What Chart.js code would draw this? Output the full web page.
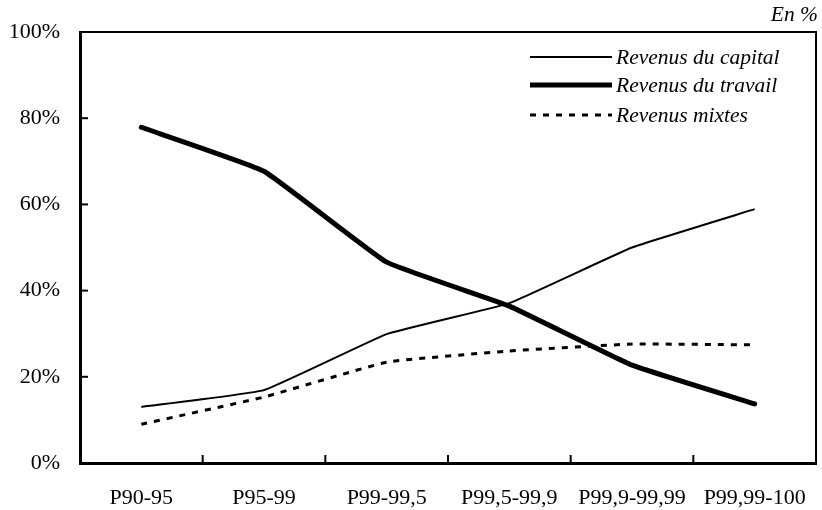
<!DOCTYPE html>
<html><head><meta charset="utf-8">
<script src="https://cdn.jsdelivr.net/npm/chart.js@4"></script>
<style>html,body{margin:0;padding:0;background:#fff}#w{width:822px;height:510px}</style>
</head><body><div id="w"><canvas id="c" width="822" height="510"></canvas></div>
<script>
const categories = ["P90-95","P95-99","P99-99,5","P99,5-99,9","P99,9-99,99","P99,99-100"];
const capital = [13.0, 16.9, 29.9, 37.1, 50.0, 58.9];
const travail = [77.9, 67.7, 46.6, 36.4, 22.7, 13.7];
const mixtes = [9.0, 15.3, 23.4, 26.0, 27.6, 27.4];
const yTicks = [0,20,40,60,80,100];
const FONT = "'Liberation Serif', 'Times New Roman', serif";

const extras = {
  id:'extras',
  afterDraw(chart){
    const ctx = chart.ctx, a = chart.chartArea;
    const xs = chart.scales.x, ys = chart.scales.y;
    ctx.save();
    ctx.strokeStyle='#000'; ctx.lineWidth=2; ctx.setLineDash([]);
    ctx.beginPath(); ctx.moveTo(a.left, a.top); ctx.lineTo(a.right, a.top); ctx.lineTo(a.right, a.bottom); ctx.stroke();
    ctx.lineWidth=2;
    yTicks.forEach(v=>{ const y=ys.getPixelForValue(v); ctx.beginPath(); ctx.moveTo(a.left, y); ctx.lineTo(a.left+8, y); ctx.stroke(); });
    for(let i=1;i<categories.length;i++){
      const x=(xs.getPixelForValue(i-1)+xs.getPixelForValue(i))/2;
      ctx.beginPath(); ctx.moveTo(x, a.bottom); ctx.lineTo(x, a.bottom-8); ctx.stroke();
    }
    ctx.font = "italic 21.5px " + FONT; ctx.fillStyle='#000'; ctx.textBaseline='middle'; ctx.textAlign='left';
    const rows=[57,85,115];
    chart.data.datasets.forEach((d,i)=>{
      const y=rows[i];
      ctx.lineWidth=d.borderWidth; ctx.setLineDash(d.borderDash||[]);
      ctx.beginPath(); ctx.moveTo(530,y); ctx.lineTo(612,y); ctx.stroke();
      ctx.setLineDash([]);
      ctx.fillText(d.label, 616, y+1);
    });
    ctx.font = "italic 21.5px " + FONT; ctx.textAlign='right'; ctx.textBaseline='alphabetic';
    ctx.fillText("En %", 818, 21);
    ctx.restore();
  }
};

new Chart(document.getElementById('c'), {
  type:'line',
  data:{ labels:categories, datasets:[
    {label:'Revenus du capital', data:capital, borderColor:'#000', borderWidth:2, pointRadius:0, tension:0.1, borderJoinStyle:'round'},
    {label:'Revenus du travail', data:travail, borderColor:'#000', borderWidth:5, pointRadius:0, tension:0.1, borderJoinStyle:'round', borderCapStyle:'round'},
    {label:'Revenus mixtes', data:mixtes, borderColor:'#000', borderWidth:3, borderDash:[6,7], pointRadius:0, tension:0.1}
  ]},
  options:{
    responsive:false, animation:false,
    layout:{autoPadding:false, padding:{top:32,right:6,left:0,bottom:0}},
    plugins:{legend:{display:false}, tooltip:{enabled:false}},
    scales:{
      x:{ offset:true, grid:{display:false}, border:{display:true,color:'#000',width:3},
          ticks:{color:'#000', font:{family:FONT,size:22}, padding:14, maxRotation:0, autoSkip:false},
          afterFit(s){ s.height=47; s.paddingLeft=0; s.paddingRight=0; } },
      y:{ min:0, max:100, grid:{display:false, drawTicks:false}, border:{display:true,color:'#000',width:3},
          afterBuildTicks(s){ s.ticks = yTicks.map(v=>({value:v})); },
          ticks:{color:'#000', font:{family:FONT,size:22}, padding:20, callback:v=>v+'%'},
          afterFit(s){ s.width=80; s.paddingTop=0; s.paddingBottom=0; } }
    }
  },
  plugins:[extras]
});
</script></body></html>
